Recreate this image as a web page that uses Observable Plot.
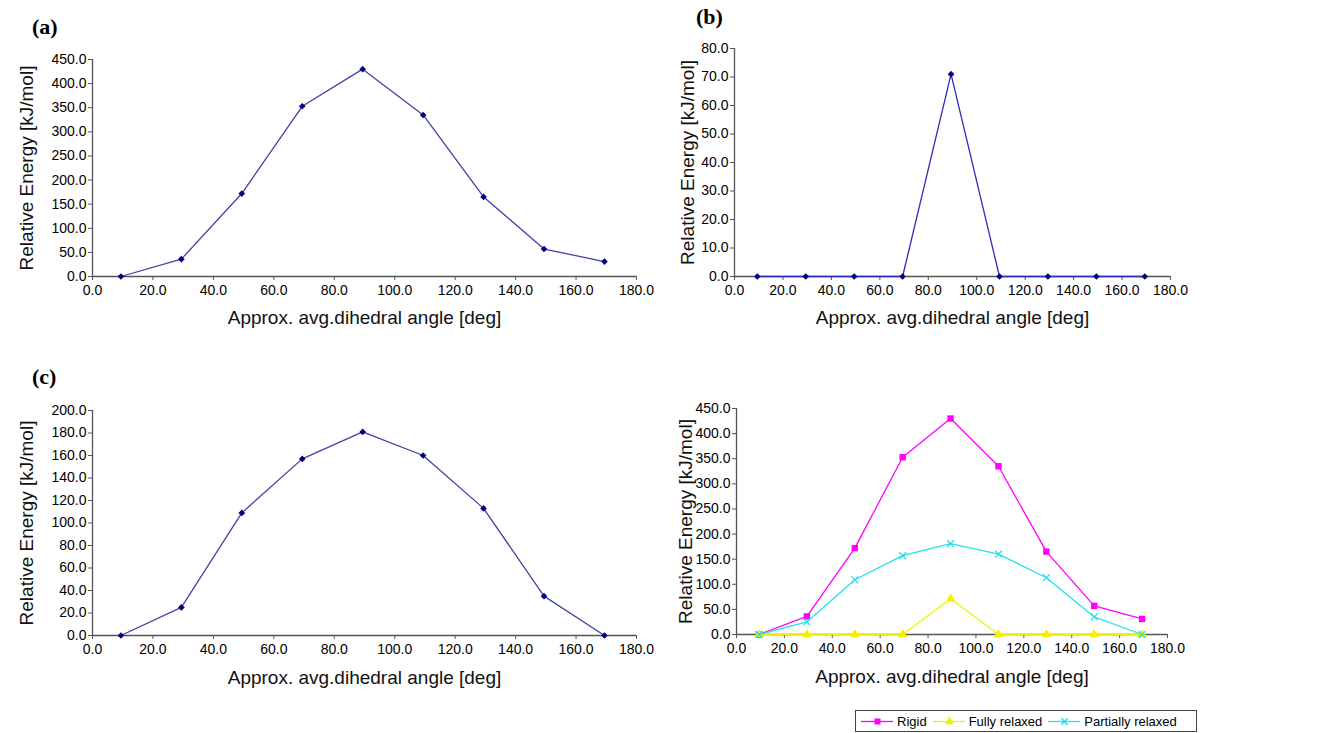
<!DOCTYPE html>
<html>
<head>
<meta charset="utf-8">
<script src="https://cdn.jsdelivr.net/npm/d3@7"></script>
<script src="https://cdn.jsdelivr.net/npm/@observablehq/plot@0.6"></script>
<style>
  html, body { margin: 0; padding: 0; background: #fff; }
  #root { position: relative; width: 1320px; height: 733px; overflow: hidden; background: #fff; }
  .panel { position: absolute; }
  .plabel { position: absolute; font-family: "Liberation Serif", "Times New Roman", serif; font-weight: bold; font-size: 22px; color: #000; }
  #legend { position: absolute; left: 855px; top: 710px; width: 342px; height: 22px; border: 1px solid #444; box-sizing: border-box;
            font-family: "Liberation Sans", Arial, sans-serif; font-size: 13px; color: #000; display: flex; align-items: center; padding-left: 5px; }
  #legend .item { display: flex; align-items: center; margin-right: 6px; }
  #legend svg { margin-right: 4px; }
</style>
</head>
<body>
<div id="root"></div>
<script>
// ---- data ----
const angles = [9.4, 29.4, 49.4, 69.4, 89.4, 109.4, 129.4, 149.4, 169.4];
const rigid = [0, 36, 172, 353, 430, 335, 165, 57, 31];
const fullyRelaxed = [0, 0, 0, 0, 71, 0, 0, 0, 0];
const partiallyRelaxed = [0, 25, 109, 157, 181, 160, 113, 35, 0];
const seriesNames = ["Rigid", "Fully relaxed", "Partially relaxed"];
const xTicks = [0, 20, 40, 60, 80, 100, 120, 140, 160, 180];
const yTicksA = [0, 50, 100, 150, 200, 250, 300, 350, 400, 450];
const yTicksB = [0, 10, 20, 30, 40, 50, 60, 70, 80];
const yTicksC = [0, 20, 40, 60, 80, 100, 120, 140, 160, 180, 200];
const yTicksD = [0, 50, 100, 150, 200, 250, 300, 350, 400, 450];
const xTitle = "Approx. avg.dihedral angle [deg]";
const yTitle = "Relative Energy [kJ/mol]";
const panelLabels = ["(a)", "(b)", "(c)"];

const navyLine = "#4141a6", navyDot = "#000080";
const colors = {"Rigid": "#ff00ff", "Fully relaxed": "#f2f200", "Partially relaxed": "#1fe3ef"};
const symbols = {"Rigid": "square", "Fully relaxed": "triangle", "Partially relaxed": "times"};
const axisColor = "#555";

const toRows = (vals, name) => angles.map((a, i) => ({angle: a, energy: vals[i], series: name}));

function panel(opts) {
  const {series, yTicks, left, top, width, height, ml, mr, mt, mb, yDx, xDy} = opts;
  const marks = [
    Plot.ruleY([0], {stroke: axisColor, strokeWidth: 1.3}),
    Plot.ruleX([0], {stroke: axisColor, strokeWidth: 1.3}),
    Plot.axisX({ticks: xTicks, tickFormat: d => d.toFixed(1), tickSize: 4, tickPadding: 5, label: null, stroke: axisColor}),
    Plot.axisY({ticks: yTicks, tickFormat: d => d.toFixed(1), tickSize: 4, tickPadding: 2, label: null, stroke: axisColor}),
  ];
  for (const s of series) {
    marks.push(Plot.line(s.rows, {x: "angle", y: "energy", stroke: s.line, strokeWidth: 1.3}));
    if (s.symbol === "times") {
      marks.push(Plot.dot(s.rows, {x: "angle", y: "energy", symbol: "times", stroke: s.dot, strokeWidth: 1.3, r: 3.2}));
    } else {
      marks.push(Plot.dot(s.rows, {x: "angle", y: "energy", symbol: s.symbol, fill: s.dot, stroke: "none", r: s.r}));
    }
  }
  marks.push(Plot.text([xTitle], {text: d => d, frameAnchor: "bottom", dy: xDy, fontSize: 19, fill: "#111"}));
  marks.push(Plot.text([yTitle], {text: d => d, frameAnchor: "left", textAnchor: "middle", rotate: -90, dx: yDx, fontSize: 19, fill: "#111"}));
  const chart = Plot.plot({
    width, height, marginLeft: ml, marginRight: mr, marginTop: mt, marginBottom: mb,
    x: {domain: [0, 180]},
    y: {domain: [0, yTicks[yTicks.length - 1]]},
    style: {fontFamily: "'Liberation Sans', Arial, sans-serif", fontSize: "14px", color: "#000", background: "transparent", overflow: "visible"},
    marks
  });
  const div = document.createElement("div");
  div.className = "panel";
  div.style.left = left + "px";
  div.style.top = top + "px";
  div.appendChild(chart);
  document.getElementById("root").appendChild(div);
}

const single = (vals, line) => [{rows: toRows(vals, "s"), line, dot: navyDot, symbol: "diamond2", r: 3}];

panel({series: single(rigid, navyLine), yTicks: yTicksA, left: 0, top: 0, width: 660, height: 340, ml: 92, mr: 24, mt: 59, mb: 64, yDx: -66, xDy: 47});
panel({series: single(fullyRelaxed, "#2a2ac0"), yTicks: yTicksB, left: 660, top: 0, width: 660, height: 340, ml: 74, mr: 150, mt: 48, mb: 64, yDx: -47, xDy: 47});
panel({series: single(partiallyRelaxed, navyLine), yTicks: yTicksC, left: 0, top: 340, width: 660, height: 360, ml: 92, mr: 24, mt: 70, mb: 65, yDx: -66, xDy: 48});
const valsByName = {"Rigid": rigid, "Fully relaxed": fullyRelaxed, "Partially relaxed": partiallyRelaxed};
panel({series: seriesNames.map(n => ({rows: toRows(valsByName[n], n), line: colors[n], dot: colors[n], symbol: symbols[n], r: 3.6})),
       yTicks: yTicksD, left: 660, top: 340, width: 660, height: 360, ml: 76, mr: 153, mt: 68, mb: 66, yDx: -51, xDy: 48});

// panel labels
const labelPos = [[32, 14], [696, 4], [32, 364]];
panelLabels.forEach((t, i) => {
  const d = document.createElement("div");
  d.className = "plabel";
  d.textContent = t;
  d.style.left = labelPos[i][0] + "px";
  d.style.top = labelPos[i][1] + "px";
  document.getElementById("root").appendChild(d);
});

// legend
const legend = document.createElement("div");
legend.id = "legend";
for (const n of seriesNames) {
  const item = document.createElement("div");
  item.className = "item";
  const sw = Plot.plot({
    width: 32, height: 14, margin: 0, axis: null,
    x: {domain: [0, 1]}, y: {domain: [0, 1]},
    style: {background: "transparent"},
    marks: [
      Plot.ruleY([0.5], {stroke: colors[n], strokeWidth: 1.3}),
      n === "Partially relaxed"
        ? Plot.dot([0.5], {x: d => d, y: 0.5, symbol: symbols[n], stroke: colors[n], r: 3})
        : Plot.dot([0.5], {x: d => d, y: 0.5, symbol: symbols[n], fill: colors[n], r: 3.4})
    ]
  });
  item.appendChild(sw);
  const t = document.createElement("span");
  t.textContent = n;
  item.appendChild(t);
  legend.appendChild(item);
}
document.getElementById("root").appendChild(legend);
</script>
</body>
</html>
